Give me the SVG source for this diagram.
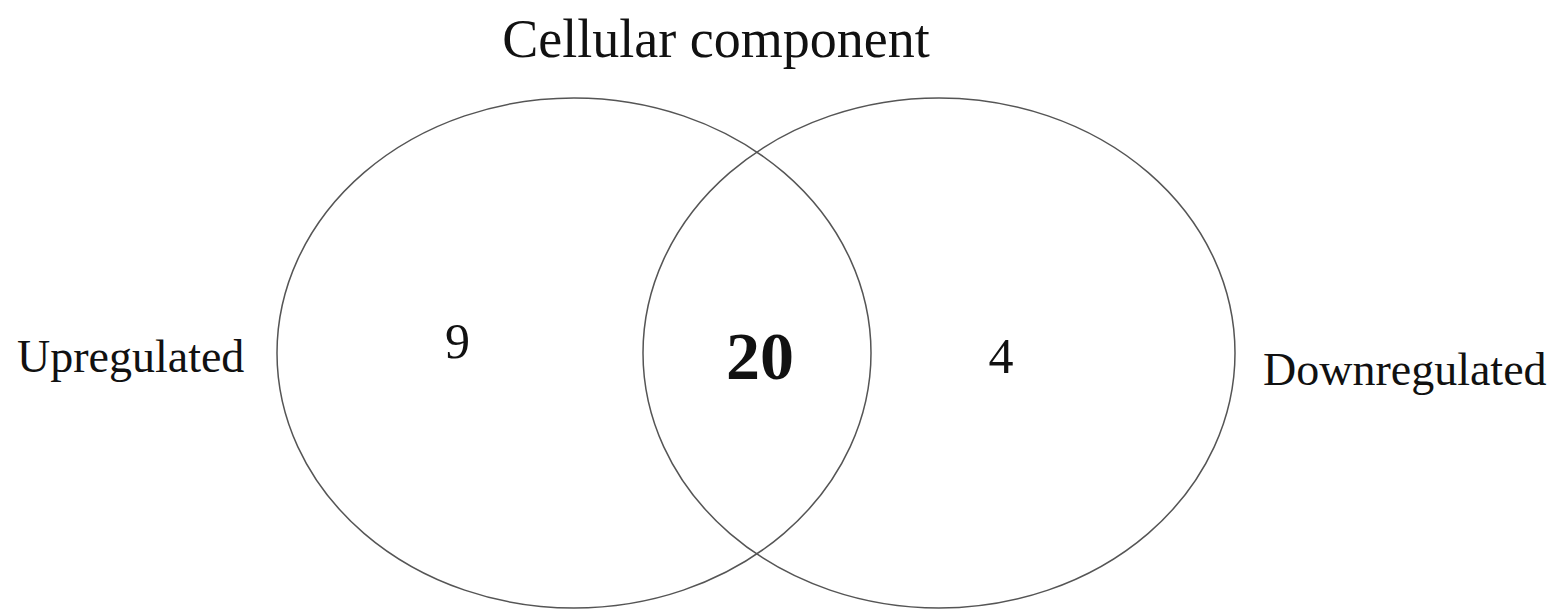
<svg xmlns="http://www.w3.org/2000/svg" width="1557" height="610" viewBox="0 0 1557 610">
<style>
.set{fill:none;stroke:#555;stroke-width:1.5}
text{font-family:"Liberation Serif","Times New Roman",serif;fill:#111}
.lbl{font-size:46px}
.num{font-size:50px;text-anchor:middle}
</style>
<rect width="1557" height="610" fill="#fff"/>
<text x="716" y="57" font-size="54" text-anchor="middle">Cellular component</text>
<g id="upregulated">
<ellipse class="set" cx="574" cy="353" rx="297" ry="255"/>
<text class="lbl" x="17" y="372">Upregulated</text>
<text class="num" x="457.5" y="358">9</text>
</g>
<g id="downregulated">
<ellipse class="set" cx="939" cy="353" rx="296" ry="255"/>
<text class="lbl" x="1263" y="385">Downregulated</text>
<text class="num" x="1001" y="373">4</text>
</g>
<g id="intersection">
<text x="760" y="379" font-size="68" font-weight="bold" text-anchor="middle">20</text>
</g>
<g id="connectors"/>
</svg>
